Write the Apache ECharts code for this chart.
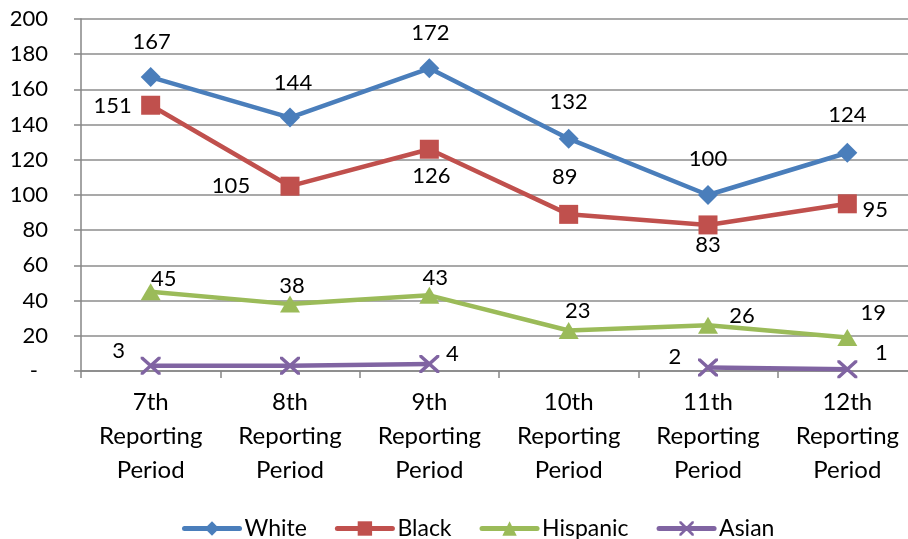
<!DOCTYPE html>
<html>
<head>
<meta charset="utf-8">
<script src="https://cdn.jsdelivr.net/npm/echarts@6/dist/echarts.min.js"></script>
<style>html,body{margin:0;padding:0;background:#fff}#c{width:908px;height:539px}</style>
</head>
<body>
<div id="c"></div>
<script>
const categories = ['7th\nReporting\nPeriod','8th\nReporting\nPeriod','9th\nReporting\nPeriod','10th\nReporting\nPeriod','11th\nReporting\nPeriod','12th\nReporting\nPeriod'];
const white = [167, 144, 172, 132, 100, 124];
const black = [151, 105, 126, 89, 83, 95];
const hispanic = [45, 38, 43, 23, 26, 19];
const asian = [3, 3, 4, null, 2, 1];
const asianLabelShown = [true, false, true, false, true, true];

// label offsets (pixels) relative to the point
const whiteOff = [[1,-35],[3,-35],[1,-35],[0,-37],[0,-36],[0,-38]];
const blackOff = [[-38,1],[-59,0],[2,27],[-4,-37],[0,20],[28,6]];
const hispOff = [[13,-13],[2,-18],[6,-17],[9,-20],[34,-9],[26,-25]];
const asianOff = [[-32,-15],[0,0],[23,-10],[0,0],[-33,-11],[34,-16]];

const FONT = 'Lato';
const xPath = 'path://M0,0L1.3,0L10,8.7L10,10L8.7,10L0,1.3Z M8.7,0L10,0L10,1.3L1.3,10L0,10L0,8.7Z';

function mk(vals, offs, show) {
  return vals.map((v, i) => ({
    value: v,
    label: {show: show ? show[i] : true, position: 'inside', offset: offs[i]}
  }));
}

const labelStyle = {fontFamily: FONT, fontSize: 22, color: '#000'};

const chart = echarts.init(document.getElementById('c'), null, {renderer: 'canvas'});
chart.setOption({
  animation: false,
  backgroundColor: '#fff',
  grid: {left: 81, right: -9, top: 19, bottom: 168, outerBoundsMode: 'none', containLabel: false},
  legend: {
    left: 177, top: 512,
    itemWidth: 55, itemHeight: 18, itemGap: 28,
    lineStyle: {width: 5, cap: 'round'},
    textStyle: {fontFamily: FONT, fontSize: 23, color: '#000'},
    data: ['White','Black','Hispanic','Asian']
  },
  xAxis: {
    type: 'category',
    data: categories,
    boundaryGap: true,
    axisLine: {lineStyle: {color: '#868686', width: 1.5}},
    axisTick: {show: true, length: 7, lineStyle: {color: '#868686', width: 1.5}},
    axisLabel: {fontFamily: FONT, fontSize: 24, color: '#000', lineHeight: 34, margin: 14, interval: 0}
  },
  yAxis: {
    type: 'value', min: 0, max: 200, interval: 20,
    axisLine: {show: true, lineStyle: {color: '#868686', width: 1.5}},
    axisTick: {show: true, length: 7, lineStyle: {color: '#868686', width: 1.5}},
    splitLine: {lineStyle: {color: '#8c8c8c', width: 1.5}},
    axisLabel: {
      fontFamily: FONT, fontSize: 22, color: '#000', margin: 33,
      formatter: v => v === 0 ? '{z|-}' : String(v),
      rich: {z: {fontFamily: FONT, fontSize: 22, color: '#000', padding: [0, 10, 0, 0]}}
    }
  },
  series: [
    {name: 'White', type: 'line', data: mk(white, whiteOff), symbol: 'diamond', symbolSize: 20,
     color: '#4A7EBB', lineStyle: {width: 4.5, color: '#4A7EBB'}, itemStyle: {color: '#4A7EBB'}, label: labelStyle, z: 5},
    {name: 'Black', type: 'line', data: mk(black, blackOff), symbol: 'rect', symbolSize: 19,
     color: '#C0504D', lineStyle: {width: 4.5, color: '#C0504D'}, itemStyle: {color: '#C0504D'}, label: labelStyle, z: 4},
    {name: 'Hispanic', type: 'line', data: mk(hispanic, hispOff), symbol: 'triangle', symbolSize: [20, 17],
     color: '#9BBB59', lineStyle: {width: 4.5, color: '#9BBB59'}, itemStyle: {color: '#9BBB59'}, label: labelStyle, z: 3},
    {name: 'Asian', type: 'line', data: mk(asian, asianOff, asianLabelShown), symbol: xPath, symbolSize: [20, 18],
     connectNulls: false,
     color: '#8064A2', lineStyle: {width: 4.5, color: '#8064A2'}, itemStyle: {color: '#8064A2'}, label: labelStyle, z: 2}
  ]
});
</script>
</body>
</html>
